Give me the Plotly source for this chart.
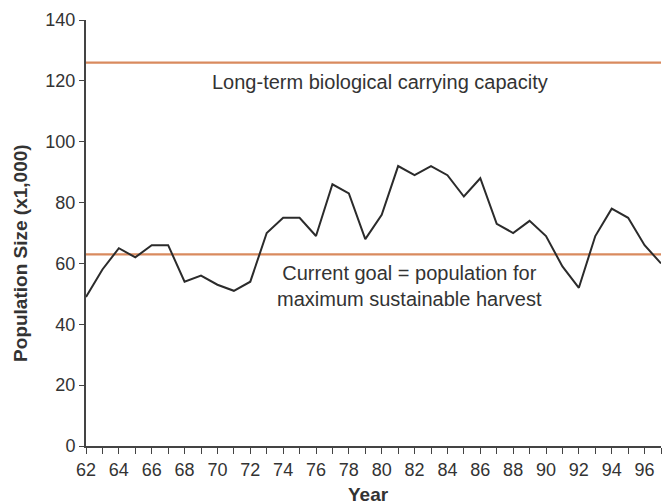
import plotly.graph_objects as go

years = list(range(62, 98))
population = [49, 58, 65, 62, 66, 66, 54, 56, 53, 51, 54, 70, 75, 75, 69, 86, 83, 68,
              76, 92, 89, 92, 89, 82, 88, 73, 70, 74, 69, 59, 52, 69, 78, 75, 66, 60]
carrying_capacity = 126
current_goal = 63
x_tick_vals = list(range(62, 97, 2))
y_tick_vals = list(range(0, 141, 20))

orange = "#d98a5e"
txt = "#333333"
font = "Liberation Sans, Arial, sans-serif"

fig = go.Figure()
fig.add_trace(go.Scatter(x=[62, 97], y=[carrying_capacity] * 2, mode="lines",
                         line=dict(color=orange, width=2.2), hoverinfo="skip"))
fig.add_trace(go.Scatter(x=[62, 97], y=[current_goal] * 2, mode="lines",
                         line=dict(color=orange, width=2.2), hoverinfo="skip"))
fig.add_trace(go.Scatter(x=years, y=population, mode="lines",
                         line=dict(color="#2b2b2b", width=2)))

fig.add_annotation(x=79.9, y=119.5, text="Long-term biological carrying capacity",
                   showarrow=False, font=dict(size=20, color=txt, family=font))
fig.add_annotation(x=81.7, y=52.5, text="Current goal = population for<br>maximum sustainable harvest",
                   showarrow=False, font=dict(size=20, color=txt, family=font))
# axis titles
fig.add_annotation(xref="paper", yref="paper", x=-0.115, y=0.453, textangle=-90,
                   text="<b>Population Size (x1,000)</b>", showarrow=False,
                   xanchor="center", yanchor="middle",
                   font=dict(size=19, color=txt, family=font))
fig.add_annotation(xref="paper", yref="paper", x=0.492, y=-0.113,
                   text="<b>Year</b>", showarrow=False,
                   xanchor="center", yanchor="middle",
                   font=dict(size=19, color=txt, family=font))

fig.update_layout(
    width=666, height=504,
    margin=dict(l=86, r=5, t=20, b=58),
    paper_bgcolor="white", plot_bgcolor="white",
    showlegend=False,
    font=dict(family=font, color=txt),
)
fig.update_xaxes(range=[62, 97], tickvals=x_tick_vals, ticks="outside", ticklen=6,
                 tickcolor="#444", showline=True, linecolor="#444", linewidth=2,
                 showgrid=False, zeroline=False, tickfont=dict(size=18, color=txt),
                 automargin=False,
                 minor=dict(dtick=1, tick0=62, ticks="outside", ticklen=6, tickcolor="#444", showgrid=False))
fig.update_yaxes(range=[0, 140], tickvals=y_tick_vals, ticks="outside", ticklen=5,
                 tickcolor="#444", showline=True, linecolor="#444", linewidth=2,
                 showgrid=False, zeroline=False, tickfont=dict(size=18, color=txt),
                 automargin=False)

fig.write_html("out.html", config={"displayModeBar": False},
               post_script="document.body.style.margin='0';document.body.style.overflow='hidden';")
